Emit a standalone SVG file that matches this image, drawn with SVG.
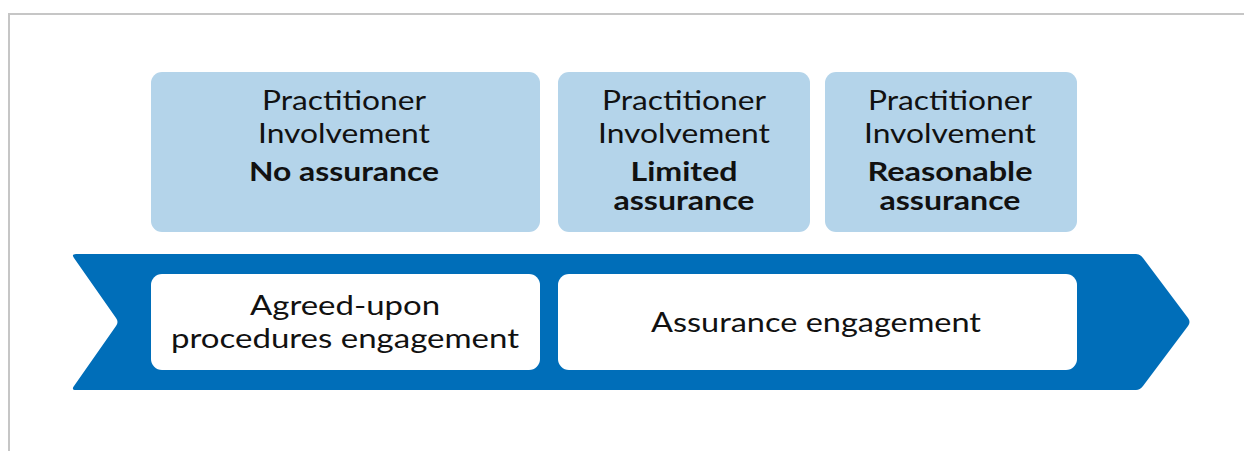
<svg xmlns="http://www.w3.org/2000/svg" width="1244" height="451" viewBox="0 0 1244 451">
<style>
.t{font-family:"Lato","Noto Sans",sans-serif;font-size:26px;fill:#111;text-anchor:middle}
.b{font-weight:bold}
.lb{fill:#b4d4ea}
.wb{fill:#fff}
</style>
<rect x="0" y="0" width="1244" height="451" fill="#fff"/>
<path d="M9 451 V14 H1244" fill="none" stroke="#c6c6c6" stroke-width="2"/>
<g id="banner">
<path d="M76 254 H1136 Q1140 254 1143 258 L1188 318 Q1191 322 1188 326 L1143 386 Q1140 390 1136 390 H76 Q71 390 74 386 L116 326 Q119 322 116 318 L74 258 Q71 254 76 254 Z" fill="#006eb9"/>
</g>
<g id="top1">
<rect class="lb" x="151" y="72" width="389" height="160" rx="11"/>
<text class="t" x="344" y="110" textLength="164" lengthAdjust="spacingAndGlyphs">Practitioner</text>
<text class="t" x="344" y="143" textLength="172" lengthAdjust="spacingAndGlyphs">Involvement</text>
<text class="t b" x="344" y="181" textLength="190" lengthAdjust="spacingAndGlyphs">No assurance</text>
</g>
<g id="top2">
<rect class="lb" x="558" y="72" width="252" height="160" rx="11"/>
<text class="t" x="684" y="110" textLength="164" lengthAdjust="spacingAndGlyphs">Practitioner</text>
<text class="t" x="684" y="143" textLength="172" lengthAdjust="spacingAndGlyphs">Involvement</text>
<text class="t b" x="684" y="181" textLength="107" lengthAdjust="spacingAndGlyphs">Limited</text>
<text class="t b" x="684" y="210" textLength="141" lengthAdjust="spacingAndGlyphs">assurance</text>
</g>
<g id="top3">
<rect class="lb" x="825" y="72" width="252" height="160" rx="11"/>
<text class="t" x="950" y="110" textLength="164" lengthAdjust="spacingAndGlyphs">Practitioner</text>
<text class="t" x="950" y="143" textLength="172" lengthAdjust="spacingAndGlyphs">Involvement</text>
<text class="t b" x="950" y="181" textLength="165" lengthAdjust="spacingAndGlyphs">Reasonable</text>
<text class="t b" x="950" y="210" textLength="141" lengthAdjust="spacingAndGlyphs">assurance</text>
</g>
<g id="bottom1">
<rect class="wb" x="151" y="274" width="389" height="96" rx="11"/>
<text class="t" x="345" y="315" textLength="190" lengthAdjust="spacingAndGlyphs">Agreed-upon</text>
<text class="t" x="345" y="348" textLength="348" lengthAdjust="spacingAndGlyphs">procedures engagement</text>
</g>
<g id="bottom2">
<rect class="wb" x="558" y="274" width="519" height="96" rx="11"/>
<text class="t" x="816" y="332" textLength="330" lengthAdjust="spacingAndGlyphs">Assurance engagement</text>
</g>
<g id="connectors"></g>
</svg>
